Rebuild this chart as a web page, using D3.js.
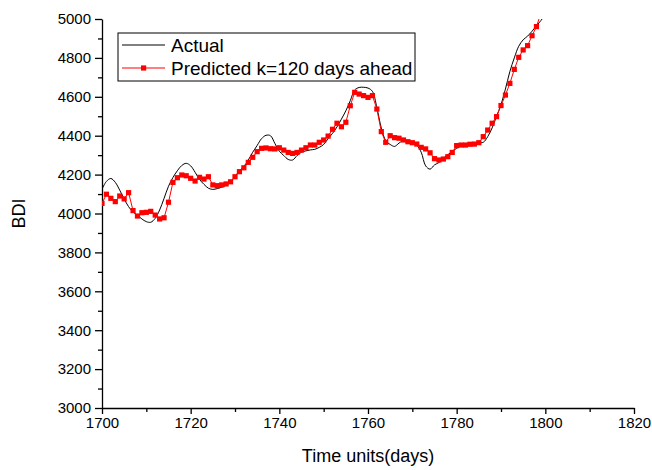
<!DOCTYPE html>
<html lang="en">
<head>
    <meta charset="UTF-8">
    <title>BDI prediction</title>
    <script src="https://d3js.org/d3.v7.min.js"></script>
    <style>
        body { margin: 0; padding: 0; background: #fff; }
        text { font-family: "Liberation Sans", Arial, sans-serif; }
    </style>
</head>
<body>
    <svg width="652" height="470"></svg>

    <script>
        // values, one per day from 1700
        const startDay = 1700;
        const actual = [4125, 4165, 4180, 4160, 4120, 4075, 4035, 4008, 3990, 3972,
            3958, 3955, 3975, 4018, 4078, 4140, 4185, 4220, 4247, 4258,
            4245, 4212, 4175, 4150, 4130, 4124, 4128, 4135, 4145, 4163,
            4190, 4220, 4242, 4275, 4315, 4350, 4385, 4402, 4400, 4360,
            4320, 4298, 4278, 4275, 4298, 4315, 4322, 4327, 4330, 4340,
            4355, 4385, 4412, 4445, 4485, 4528, 4580, 4635, 4648, 4649,
            4645, 4628, 4545, 4440, 4375, 4355, 4345, 4362, 4376, 4373,
            4362, 4350, 4315, 4245, 4228, 4250, 4262, 4284, 4302, 4320,
            4335, 4348, 4355, 4361, 4363, 4364, 4366, 4395, 4440, 4500,
            4560, 4640, 4730, 4800, 4860, 4893, 4912, 4937, 4965, 4992, 5022];
        const predicted = [4052, 4099, 4078, 4061, 4090, 4075, 4107, 4015, 3987, 4004,
            4006, 4011, 3992, 3972, 3978, 4058, 4160, 4184, 4198, 4194,
            4181, 4167, 4186, 4177, 4189, 4147, 4143, 4147, 4152, 4163,
            4189, 4215, 4235, 4263, 4289, 4318, 4335, 4337, 4333, 4332,
            4338, 4326, 4314, 4309, 4314, 4326, 4338, 4352, 4352, 4366,
            4378, 4398, 4433, 4464, 4446, 4469, 4554, 4623, 4614, 4606,
            4597, 4606, 4537, 4421, 4366, 4400, 4390, 4387, 4378, 4369,
            4364, 4357, 4340, 4332, 4312, 4282, 4275, 4280, 4292, 4314,
            4349, 4352, 4352, 4356, 4357, 4364, 4395, 4429, 4464, 4498,
            4555, 4609, 4669, 4741, 4803, 4841, 4863, 4914, 4961, 5030];
        const xTicks = [1700, 1720, 1740, 1760, 1780, 1800, 1820];
        const yTicks = [3000, 3200, 3400, 3600, 3800, 4000, 4200, 4400, 4600, 4800, 5000];
        const legendLabels = ["Actual", "Predicted k=120 days ahead"];

        const svg = d3.select("svg");
        const m = { left: 102, right: 634, top: 19, bottom: 408 };

        const x = d3.scaleLinear().domain([1700, 1820]).range([m.left, m.right]);
        const y = d3.scaleLinear().domain([3000, 5000]).range([m.bottom, m.top]);

        svg.append("clipPath").attr("id", "plot")
            .append("rect")
            .attr("x", m.left).attr("y", m.top)
            .attr("width", m.right - m.left).attr("height", m.bottom - m.top);

        // minor ticks
        svg.append("g")
            .attr("transform", `translate(0,${m.bottom})`)
            .call(d3.axisBottom(x).tickValues(d3.range(1710, 1820, 20)).tickSize(4).tickFormat(""))
            .call(g => g.select(".domain").remove());
        svg.append("g")
            .attr("transform", `translate(${m.left},0)`)
            .call(d3.axisLeft(y).tickValues(d3.range(3100, 5000, 200)).tickSize(4).tickFormat(""))
            .call(g => g.select(".domain").remove());

        svg.append("g")
            .attr("transform", `translate(0,${m.bottom})`)
            .call(d3.axisBottom(x).tickValues(xTicks).tickFormat(d3.format("d"))
                .tickSize(6).tickSizeOuter(0).tickPadding(3));
        svg.append("g")
            .attr("transform", `translate(${m.left},0)`)
            .call(d3.axisLeft(y).tickValues(yTicks).tickFormat(d3.format("d"))
                .tickSize(7).tickSizeOuter(0).tickPadding(4));

        svg.selectAll(".tick text")
            .attr("font-size", 15)
            .attr("font-family", "Liberation Sans, Arial, sans-serif")
            .attr("fill", "#000");
        svg.selectAll(".domain, .tick line").attr("stroke", "#000").attr("stroke-width", 1.3);

        svg.append("text")
            .attr("x", x(1760)).attr("y", 462)
            .attr("text-anchor", "middle")
            .attr("font-size", 18)
            .text("Time units(days)");
        svg.append("text")
            .attr("transform", `translate(25,${y(4000)}) rotate(-90)`)
            .attr("text-anchor", "middle")
            .attr("font-size", 18)
            .text("BDI");

        const line = d3.line()
            .x((d, i) => x(startDay + i))
            .y(d => y(d));

        const plot = svg.append("g").attr("clip-path", "url(#plot)");

        plot.append("path")
            .attr("fill", "none")
            .attr("stroke", "#000")
            .attr("stroke-width", 1)
            .attr("d", line.curve(d3.curveCatmullRom)(actual));

        plot.append("path")
            .attr("fill", "none")
            .attr("stroke", "#ff0000")
            .attr("stroke-width", 1)
            .attr("d", line.curve(d3.curveLinear)(predicted));

        plot.selectAll("rect.pt")
            .data(predicted)
            .enter()
            .append("rect")
            .attr("class", "pt")
            .attr("x", (d, i) => x(startDay + i) - 2.6)
            .attr("y", d => y(d) - 2.6)
            .attr("width", 5.2)
            .attr("height", 5.2)
            .attr("fill", "#ff0000");

        // legend
        const legend = svg.append("g").attr("transform", "translate(118,33)");
        legend.append("rect")
            .attr("width", 297).attr("height", 48)
            .attr("fill", "#fff").attr("stroke", "#000").attr("stroke-width", 1);
        legendLabels.forEach((label, i) => {
            const ly = 12 + i * 23;
            legend.append("line")
                .attr("x1", 4).attr("x2", 47)
                .attr("y1", ly).attr("y2", ly)
                .attr("stroke", i ? "#ff0000" : "#000");
            if (i) {
                legend.append("rect")
                    .attr("x", 23).attr("y", ly - 2.6)
                    .attr("width", 5.2).attr("height", 5.2)
                    .attr("fill", "#ff0000");
            }
            legend.append("text")
                .attr("x", 53).attr("y", ly + 7)
                .attr("font-size", 19)
                .text(label);
        });
    </script>
</body>
</html>
